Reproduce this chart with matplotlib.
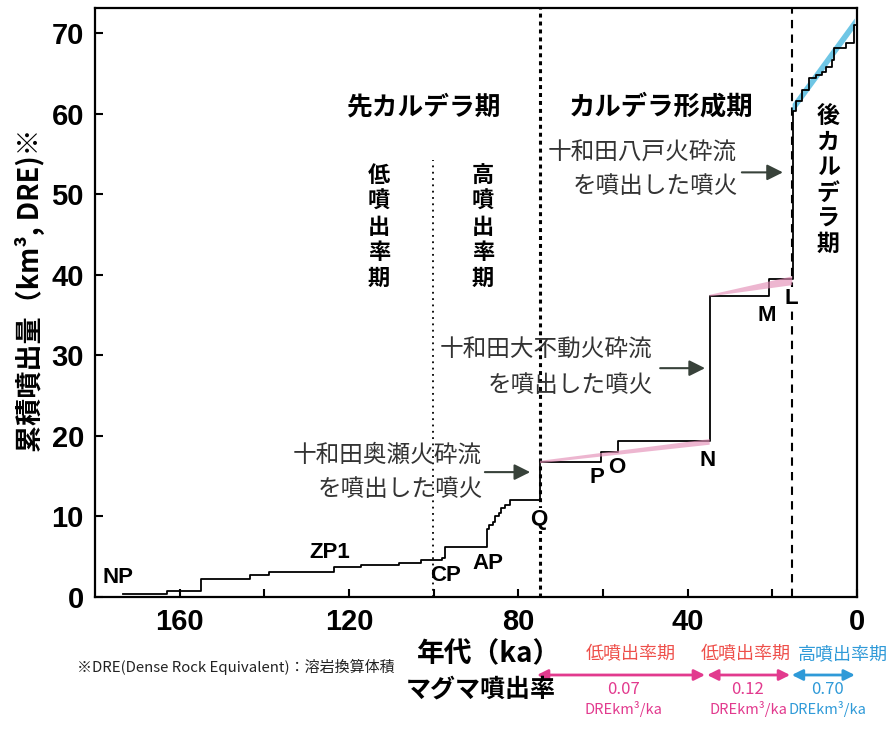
import matplotlib
matplotlib.use("Agg")
import matplotlib.pyplot as plt
from matplotlib.transforms import blended_transform_factory

# ---------------- data ----------------
ages = [173.5, 163.0, 155.0, 143.5, 138.8, 123.5, 117.2, 108.2, 103.1, 98.0, 97.4,
        87.5, 87.0, 85.9, 85.4, 84.6, 84.0, 83.1, 82.0, 74.9, 60.5, 56.5, 34.8,
        20.8, 15.2, 14.5, 12.9, 11.4, 9.8, 8.2, 7.3, 6.0, 5.5, 2.7, 0.8, 0.0]
volumes = [0.4, 0.8, 2.2, 2.7, 3.1, 3.7, 4.0, 4.25, 4.6, 4.8, 6.2,
           8.5, 8.9, 9.3, 10.0, 10.4, 11.0, 11.4, 12.0, 16.7, 18.0, 19.4, 37.3,
           39.5, 60.3, 61.5, 62.9, 64.4, 64.8, 65.2, 65.8, 66.6, 68.1, 68.7, 71.0, 71.2]

# trend bands: (age_start, age_end, top_start, top_end, bottom_start, bottom_end)
trend_qn = [74.9, 34.8, 16.9, 19.6, 16.6, 18.9]
trend_nl = [34.8, 15.3, 37.5, 39.8, 37.3, 38.7]
trend_post = [15.2, 0.5, 61.2, 71.8, 60.0, 70.6]

eruption_labels = ["NP", "ZP1", "CP", "AP", "Q", "P", "O", "N", "M", "L"]
eruption_label_ages = [174.6, 124.5, 97.1, 87.2, 75.2, 61.4, 56.7, 35.2, 21.3, 15.4]
eruption_label_vals = [2.4, 5.5, 2.7, 4.2, 9.6, 14.8, 16.1, 17.0, 34.9, 37.1]

boundary_q = 74.9
boundary_l = 15.3
boundary_pre = 100.2

rate_labels = ["低噴出率期", "低噴出率期", "高噴出率期"]
rate_values = ["0.07", "0.12", "0.70"]
rate_ranges = [(75.6, 35.9), (35.4, 15.8), (15.4, 0.5)]
rate_label_x = [631, 746, 843]   # pixel centres of the labels
rate_value_x = [623, 748, 827]

x_ticks = [0, 20, 40, 60, 80, 100, 120, 140, 160]
x_ticklabels = ["0", "", "40", "", "80", "", "120", "", "160"]
y_ticks = [0, 10, 20, 30, 40, 50, 60, 70]

JP = ["Noto Sans CJK JP", "DejaVu Sans"]
LAT = ["Liberation Sans", "DejaVu Sans"]

plt.rcParams["font.family"] = LAT

W, H = 889, 731
fig = plt.figure(figsize=(W / 100, H / 100), dpi=100)
ax = fig.add_axes([95 / W, 1 - 597 / H, 762 / W, 589 / H])
ax.set_xlim(180, 0)
ax.set_ylim(0, 73.1)

# trend bands
def band(t, color, alpha, z):
    a0, a1, t0, t1, b0, b1 = t
    ax.fill([a0, a1, a1, a0], [t0, t1, b1, b0], color=color, alpha=alpha, lw=0, zorder=z)

band(trend_post, "#5fc0e3", 0.9, 2)
ax.step(ages, volumes, where="post", color="black", lw=1.3, zorder=3)
band(trend_qn, "#e48fb7", 0.65, 4)
band(trend_nl, "#e48fb7", 0.65, 4)

# boundaries
ax.axvline(boundary_q, color="black", lw=2.2, ls=(0, (1.3, 1.3)), zorder=1)
ax.axvline(boundary_l, color="black", lw=1.5, ls=(0, (4, 3)), zorder=1)
ax.plot([boundary_pre, boundary_pre], [0, 54.2], color="black", lw=1.3, ls=(0, (1, 2.5)), zorder=1)

# axes styling
for s in ax.spines.values():
    s.set_linewidth(1.6)
ax.set_xticks(x_ticks)
ax.set_xticklabels(x_ticklabels)
ax.set_yticks(y_ticks)
ax.tick_params(direction="in", length=6, width=1.5, labelsize=21, pad=8)
for lab in ax.get_xticklabels() + ax.get_yticklabels():
    lab.set_fontweight("bold")

# eruption letters
for t, a, v in zip(eruption_labels, eruption_label_ages, eruption_label_vals):
    kw = {}
    if t in ("Q", "L"):
        kw["bbox"] = dict(facecolor="white", edgecolor="none", pad=0.5)
    ax.text(a, v, t, ha="center", va="center", fontsize=16, fontweight="bold", family=LAT,
            zorder=5, **kw)

# period labels
ax.text(102.3, 60.8, "先カルデラ期", ha="center", va="center", fontsize=18.5,
        fontweight="bold", family=JP)
ax.text(46.3, 60.8, "カルデラ形成期", ha="center", va="center", fontsize=19,
        fontweight="bold", family=JP)
ax.text(6.85, 51.7, "\n".join("後カルデラ期"), ha="center", va="center", fontsize=16.5,
        fontweight="bold", family=JP, linespacing=1.15)
ax.text(112.9, 45.9, "\n".join("低噴出率期"), ha="center", va="center", fontsize=16,
        fontweight="bold", family=JP, linespacing=1.15)
ax.text(88.4, 45.9, "\n".join("高噴出率期"), ha="center", va="center", fontsize=16,
        fontweight="bold", family=JP, linespacing=1.15)

# annotations with arrows
notes = [
    ("十和田八戸火砕流", 73.0, 55.1, 67.1, 50.9, (27.2, 52.7), (17.5, 52.7)),
    ("十和田大不動火砕流", 98.5, 30.6, 87.2, 26.3, (46.5, 28.4), (35.9, 28.4)),
    ("十和田奥瀬火砕流", 133.2, 17.6, 127.3, 13.3, (87.9, 15.5), (77.2, 15.5)),
]
for l1, a1, v1, a2, v2, p0, p1 in notes:
    ax.text(a1, v1, l1, ha="left", va="center", fontsize=17, family=JP, color="#333333")
    ax.text(a2, v2, "を噴出した噴火", ha="left", va="center", fontsize=17, family=JP,
            color="#333333")
    ax.annotate("", xy=p1, xytext=p0,
                arrowprops=dict(arrowstyle="-|>", color="#38423a", lw=1.5,
                                mutation_scale=24, shrinkA=0, shrinkB=0))

# y label
fig.text(30 / W, 1 - 290 / H, "累積噴出量（km³, DRE)※", rotation=90, ha="center",
         va="center", fontsize=19.5, fontweight="bold", family=JP)
# x label
fig.text(489 / W, 1 - 654 / H, "年代（ka）", ha="center", va="center", fontsize=20,
         fontweight="bold", family=JP)
fig.text(77 / W, 1 - 667 / H, "※DRE(Dense Rock Equivalent)：溶岩換算体積", ha="left",
         va="center", fontsize=10.8, family=JP, color="#222222")
fig.text(481 / W, 1 - 690 / H, "マグマ噴出率", ha="center", va="center", fontsize=18,
         fontweight="bold", family=JP)

# rate arrows below axes (x in data, y in figure)
trans = blended_transform_factory(ax.transData, fig.transFigure)
red = "#ee4f4a"
mag = "#e23a8e"
blue = "#2f9ad8"
cols_lab = [red, red, blue]
cols_arr = [mag, mag, blue]
yarr = 1 - 675 / H
for lab, val, (a0, a1), lx, vx, cl, ca in zip(rate_labels, rate_values, rate_ranges,
                                               rate_label_x, rate_value_x, cols_lab, cols_arr):
    ax.annotate("", xy=(a1, yarr), xytext=(a0, yarr), xycoords=trans, textcoords=trans,
                arrowprops=dict(arrowstyle="<|-|>", color=ca, lw=2, mutation_scale=16,
                                shrinkA=0, shrinkB=0), annotation_clip=False)
    fig.text(lx / W, 1 - 654 / H, lab, ha="center", va="center", fontsize=13,
             family=JP, color=cl)
    fig.text(vx / W, 1 - 689 / H, val, ha="center", va="center", fontsize=12,
             family=JP, color=ca)
    fig.text(vx / W, 1 - 709 / H, "DREkm³/ka", ha="center", va="center",
             fontsize=10.5, family=JP, color=ca)

fig.savefig("out.png", dpi=100)
